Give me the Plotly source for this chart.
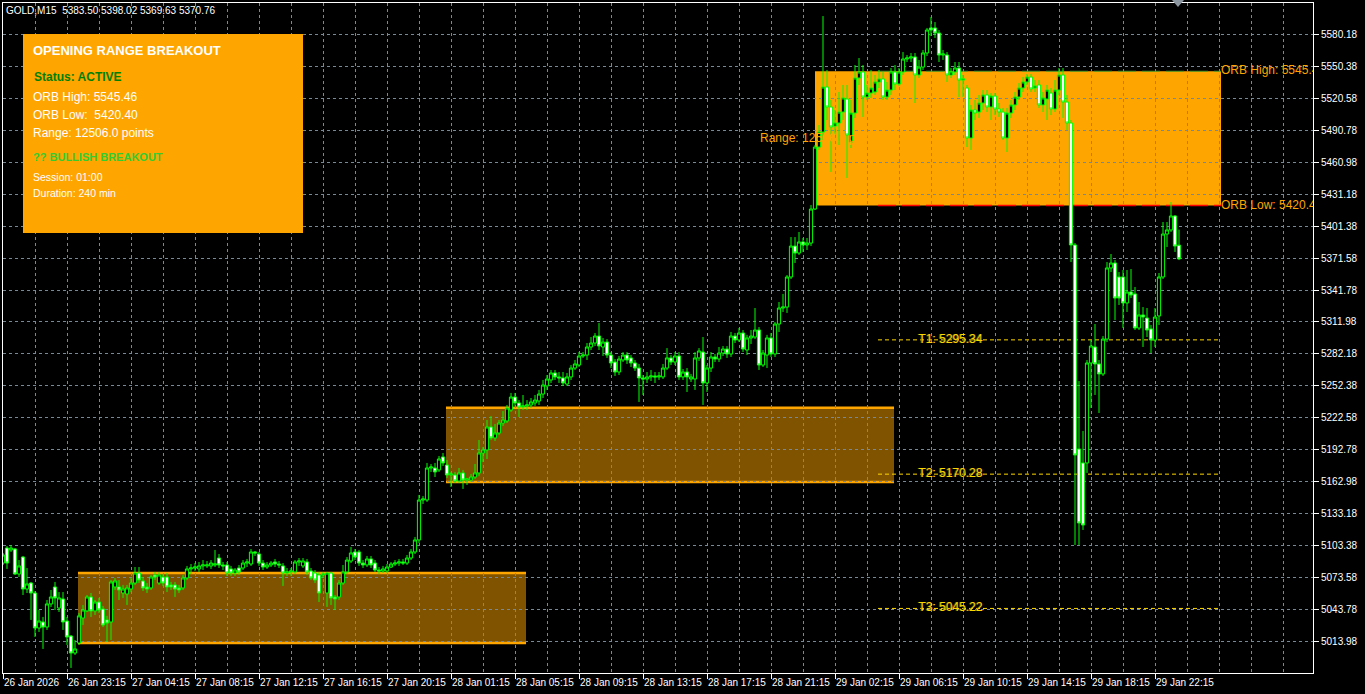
import plotly.graph_objects as go

# ─────────────────────────────────────────────────────
# GOLD, M15 — candles (bar index 0 = first visible bar)
# ─────────────────────────────────────────────────────
opens = [
    5087.5, 5101.5, 5099.7, 5100.6, 5077.3, 5093.1, 5063.3, 5068.9, 5059.6, 5027.0,
    5032.6, 5027.9, 5049.4, 5065.2, 5045.6, 5054.0, 5033.5, 5019.5, 5003.7, 5013.0,
    5036.3, 5042.9, 5055.9, 5042.9, 5051.2, 5044.7, 5034.5, 5032.6, 5065.2, 5065.2,
    5059.6, 5058.7, 5063.3, 5068.9, 5078.2, 5070.8, 5065.2, 5064.3, 5076.4, 5068.9,
    5074.5, 5074.5, 5067.1, 5067.1, 5064.3, 5064.3, 5073.6, 5082.0, 5082.9, 5082.0,
    5084.8, 5084.8, 5084.8, 5085.7, 5092.2, 5085.7, 5085.7, 5082.0, 5078.2, 5082.9,
    5082.9, 5087.5, 5086.6, 5097.8, 5095.9, 5087.5, 5083.8, 5085.7, 5088.5, 5086.6,
    5084.8, 5078.2, 5079.2, 5079.2, 5088.5, 5084.8, 5088.5, 5080.1, 5078.2, 5076.4,
    5076.4, 5059.6, 5078.2, 5055.9, 5055.9, 5068.9, 5079.2, 5089.4, 5097.8, 5097.8,
    5087.5, 5085.7, 5091.3, 5087.5, 5081.0, 5080.1, 5080.1, 5083.8, 5086.6, 5087.5,
    5088.5, 5087.5, 5092.2, 5097.8, 5109.0, 5146.2, 5146.2, 5176.0, 5176.0, 5174.2,
    5186.3, 5178.8, 5169.5, 5169.5, 5163.9, 5171.4, 5164.8, 5164.8, 5167.6, 5171.4,
    5190.0, 5192.8, 5214.2, 5204.0, 5208.6, 5217.9, 5219.8, 5230.0, 5242.1, 5236.6,
    5232.8, 5233.8, 5234.7, 5236.6, 5238.4, 5244.9, 5252.4, 5258.0, 5264.5, 5260.8,
    5259.9, 5254.2, 5260.8, 5269.1, 5271.9, 5280.3, 5281.2, 5288.7, 5292.4, 5298.9,
    5288.7, 5293.3, 5281.2, 5274.7, 5265.4, 5276.6, 5281.2, 5278.5, 5273.8, 5269.1,
    5259.9, 5258.9, 5260.8, 5261.7, 5260.8, 5260.8, 5269.1, 5278.5, 5274.7, 5280.3,
    5260.8, 5265.4, 5258.9, 5258.9, 5278.5, 5284.0, 5255.2, 5269.1, 5279.4, 5277.5,
    5283.1, 5286.8, 5282.2, 5298.9, 5295.2, 5301.7, 5285.9, 5297.1, 5298.0, 5304.5,
    5271.9, 5281.2, 5297.1, 5282.2, 5310.1, 5325.0, 5325.9, 5353.9, 5382.7, 5376.2,
    5386.5, 5383.7, 5385.5, 5417.2, 5474.9, 5488.9, 5530.8, 5512.2, 5494.5, 5497.3,
    5507.5, 5519.6, 5479.6, 5506.6, 5539.2, 5544.8, 5521.5, 5525.2, 5526.2, 5535.5,
    5538.3, 5521.5, 5528.0, 5544.8, 5533.6, 5544.8, 5556.9, 5557.8, 5558.8, 5542.0,
    5549.4, 5562.5, 5585.8, 5585.8, 5581.1, 5560.6, 5560.6, 5542.0, 5544.8, 5548.5,
    5537.3, 5529.9, 5483.3, 5509.4, 5507.5, 5515.9, 5523.4, 5512.2, 5522.4, 5510.3,
    5507.5, 5483.3, 5506.6, 5514.1, 5521.5, 5529.9, 5535.5, 5540.1, 5529.9, 5532.7,
    5514.1, 5519.6, 5525.2, 5510.3, 5528.0, 5542.0, 5516.8, 5497.3, 5383.7, 5193.7,
    5180.7, 5180.7, 5273.8, 5288.7, 5272.9, 5263.6, 5296.1, 5362.3, 5366.9, 5353.9,
    5353.9, 5329.7, 5339.9, 5338.1, 5306.4, 5318.5, 5315.7, 5305.5, 5295.2, 5317.6,
    5353.9, 5393.9, 5397.7, 5410.7, 5383.50,
]
highs = [
    5096.9, 5103.4, 5104.3, 5101.5, 5090.3, 5094.1, 5082.9, 5069.9, 5061.5, 5043.8,
    5037.3, 5053.1, 5062.4, 5069.9, 5060.5, 5060.5, 5037.3, 5020.5, 5015.8, 5041.0,
    5048.4, 5057.7, 5059.6, 5053.1, 5055.0, 5047.5, 5038.3, 5071.7, 5073.6, 5071.7,
    5067.1, 5067.1, 5073.6, 5083.8, 5083.8, 5074.5, 5068.9, 5076.4, 5079.2, 5079.2,
    5077.3, 5078.2, 5069.9, 5069.9, 5067.1, 5076.4, 5084.8, 5086.6, 5087.5, 5088.5,
    5090.3, 5089.4, 5090.3, 5099.7, 5095.9, 5088.5, 5088.5, 5084.8, 5082.9, 5085.7,
    5090.3, 5091.3, 5100.6, 5098.7, 5097.8, 5090.3, 5088.5, 5089.4, 5091.3, 5089.4,
    5087.5, 5082.9, 5082.9, 5090.3, 5092.2, 5092.2, 5091.3, 5082.9, 5081.0, 5079.2,
    5079.2, 5079.2, 5079.2, 5057.7, 5071.7, 5085.7, 5093.1, 5102.5, 5100.6, 5099.7,
    5090.3, 5094.1, 5094.1, 5090.3, 5083.8, 5084.8, 5086.6, 5088.5, 5090.3, 5091.3,
    5091.3, 5095.0, 5100.6, 5111.8, 5150.9, 5149.9, 5180.7, 5179.7, 5180.7, 5187.2,
    5190.0, 5183.5, 5172.3, 5172.3, 5176.0, 5174.2, 5166.7, 5170.4, 5179.7, 5202.1,
    5195.6, 5220.7, 5224.4, 5217.0, 5220.7, 5229.1, 5234.7, 5245.9, 5245.9, 5239.3,
    5244.0, 5239.3, 5241.2, 5244.0, 5248.7, 5258.0, 5262.6, 5267.3, 5267.3, 5265.4,
    5265.4, 5264.5, 5271.9, 5276.6, 5284.0, 5284.0, 5292.4, 5298.0, 5301.7, 5311.1,
    5297.1, 5296.1, 5284.0, 5277.5, 5280.3, 5284.0, 5284.0, 5281.2, 5276.6, 5272.9,
    5262.6, 5265.4, 5267.3, 5265.4, 5265.4, 5272.9, 5287.7, 5281.2, 5284.0, 5284.0,
    5268.2, 5269.1, 5263.6, 5284.0, 5287.7, 5298.0, 5271.9, 5284.0, 5282.2, 5288.7,
    5289.6, 5289.6, 5302.7, 5301.7, 5306.4, 5304.5, 5300.0, 5304.5, 5325.0, 5307.3,
    5285.9, 5300.0, 5301.7, 5312.0, 5330.6, 5338.1, 5355.7, 5391.1, 5391.1, 5395.8,
    5390.2, 5390.2, 5420.9, 5476.8, 5495.4, 5596.9, 5546.7, 5518.7, 5509.4, 5526.2,
    5532.7, 5532.7, 5518.7, 5551.3, 5557.8, 5551.3, 5532.7, 5546.7, 5542.0, 5546.7,
    5544.8, 5535.5, 5548.5, 5551.3, 5548.5, 5563.4, 5560.6, 5562.5, 5562.5, 5556.0,
    5565.3, 5585.8, 5596.0, 5591.3, 5583.9, 5565.3, 5563.4, 5548.5, 5554.1, 5554.1,
    5542.0, 5532.7, 5514.1, 5518.7, 5523.4, 5528.0, 5528.0, 5525.2, 5525.2, 5515.9,
    5511.3, 5511.3, 5518.7, 5526.2, 5534.5, 5540.1, 5542.9, 5542.9, 5537.3, 5537.3,
    5526.2, 5532.7, 5529.9, 5537.3, 5548.5, 5548.5, 5523.4, 5500.1, 5385.5, 5257.0,
    5210.5, 5276.6, 5295.2, 5310.1, 5276.6, 5298.9, 5367.8, 5375.3, 5369.7, 5358.5,
    5360.4, 5360.4, 5361.3, 5344.6, 5330.6, 5325.9, 5325.0, 5309.2, 5325.0, 5357.6,
    5405.1, 5405.1, 5423.7, 5411.6, 5398.02,
]
lows = [
    5085.7, 5082.0, 5097.8, 5076.4, 5074.5, 5057.7, 5059.6, 5034.5, 5018.6, 5023.3,
    5007.5, 5025.2, 5046.6, 5043.8, 5041.9, 5025.2, 5011.2, 4989.8, 5001.9, 5011.2,
    5029.8, 5041.9, 5037.3, 5039.1, 5041.0, 5027.9, 5014.0, 5015.8, 5062.4, 5053.1,
    5055.0, 5048.4, 5060.5, 5067.1, 5068.9, 5061.5, 5059.6, 5062.4, 5071.7, 5067.1,
    5066.1, 5060.5, 5062.4, 5055.9, 5059.6, 5062.4, 5071.7, 5077.3, 5080.1, 5079.2,
    5081.0, 5082.9, 5082.0, 5083.8, 5082.9, 5081.0, 5075.4, 5075.4, 5075.4, 5076.4,
    5081.0, 5083.8, 5084.8, 5094.1, 5084.8, 5081.0, 5082.0, 5083.8, 5083.8, 5082.9,
    5066.1, 5075.4, 5075.4, 5077.3, 5084.8, 5082.9, 5076.4, 5071.7, 5068.9, 5051.2,
    5073.6, 5046.6, 5048.4, 5043.8, 5053.1, 5067.1, 5077.3, 5087.5, 5090.3, 5084.8,
    5082.9, 5083.8, 5082.9, 5079.2, 5077.3, 5078.2, 5078.2, 5082.9, 5084.8, 5084.8,
    5085.7, 5085.7, 5090.3, 5095.9, 5106.2, 5142.5, 5144.4, 5172.3, 5167.6, 5172.3,
    5177.9, 5166.7, 5158.3, 5162.0, 5162.0, 5156.5, 5160.2, 5163.0, 5165.8, 5168.6,
    5181.6, 5184.4, 5202.1, 5201.2, 5206.7, 5215.1, 5217.9, 5228.2, 5233.8, 5223.5,
    5230.0, 5230.0, 5231.9, 5233.8, 5234.7, 5241.2, 5248.7, 5255.2, 5258.0, 5255.2,
    5252.4, 5252.4, 5258.0, 5267.3, 5270.1, 5278.5, 5276.6, 5285.9, 5289.6, 5285.9,
    5280.3, 5278.5, 5269.1, 5261.7, 5262.6, 5274.7, 5272.9, 5270.1, 5266.4, 5237.5,
    5244.0, 5255.2, 5257.0, 5255.2, 5258.0, 5258.9, 5267.3, 5271.9, 5271.9, 5258.0,
    5258.0, 5246.8, 5256.1, 5248.7, 5275.7, 5234.7, 5246.8, 5265.4, 5274.7, 5274.7,
    5280.3, 5278.5, 5279.4, 5292.4, 5293.3, 5284.0, 5281.2, 5291.5, 5296.1, 5267.3,
    5270.1, 5269.1, 5279.4, 5279.4, 5302.7, 5321.3, 5320.4, 5352.0, 5366.9, 5374.4,
    5377.2, 5379.0, 5382.7, 5416.3, 5472.2, 5481.5, 5500.1, 5451.7, 5486.1, 5476.8,
    5500.1, 5446.1, 5474.0, 5502.0, 5532.7, 5502.9, 5518.7, 5520.6, 5523.4, 5529.9,
    5518.7, 5518.7, 5523.4, 5528.0, 5531.8, 5542.0, 5554.1, 5554.1, 5515.9, 5539.2,
    5546.7, 5559.7, 5578.3, 5576.5, 5554.1, 5556.0, 5535.5, 5539.2, 5542.0, 5521.5,
    5521.5, 5474.9, 5472.2, 5500.1, 5502.0, 5509.4, 5507.5, 5500.1, 5504.7, 5502.9,
    5481.5, 5470.3, 5502.0, 5509.4, 5518.7, 5526.2, 5532.7, 5526.2, 5526.2, 5511.3,
    5507.5, 5500.1, 5504.7, 5507.5, 5523.4, 5502.0, 5490.8, 5367.8, 5104.3, 5104.3,
    5118.3, 5171.4, 5231.9, 5244.0, 5227.2, 5261.7, 5293.3, 5358.5, 5313.8, 5327.8,
    5306.4, 5321.3, 5334.3, 5304.5, 5304.5, 5288.7, 5298.0, 5283.1, 5288.7, 5309.2,
    5352.0, 5381.8, 5395.8, 5377.2, 5369.63,
]
closes = [
    5095.0, 5087.5, 5101.5, 5077.3, 5084.8, 5063.3, 5068.0, 5059.6, 5027.0, 5033.5,
    5027.9, 5049.4, 5055.9, 5055.0, 5055.0, 5032.6, 5018.6, 5003.7, 5007.5, 5038.3,
    5043.8, 5055.9, 5042.9, 5051.2, 5043.8, 5029.8, 5031.6, 5069.9, 5070.8, 5062.4,
    5063.3, 5064.3, 5068.9, 5078.2, 5071.7, 5064.3, 5063.3, 5074.5, 5074.5, 5076.4,
    5068.9, 5065.2, 5065.2, 5063.3, 5062.4, 5073.6, 5082.0, 5082.9, 5083.8, 5084.8,
    5085.7, 5085.7, 5087.5, 5086.6, 5085.7, 5084.8, 5078.2, 5078.2, 5081.0, 5079.2,
    5087.5, 5088.5, 5097.8, 5096.9, 5087.5, 5083.8, 5085.7, 5087.5, 5086.6, 5085.7,
    5078.2, 5079.2, 5080.1, 5088.5, 5089.4, 5089.4, 5079.2, 5073.6, 5071.7, 5059.6,
    5077.3, 5078.2, 5055.0, 5054.0, 5068.9, 5079.2, 5090.3, 5096.9, 5093.1, 5087.5,
    5085.7, 5091.3, 5085.7, 5081.0, 5080.1, 5082.0, 5083.8, 5086.6, 5087.5, 5088.5,
    5087.5, 5092.2, 5097.8, 5109.0, 5146.2, 5147.1, 5176.0, 5176.9, 5172.3, 5184.4,
    5180.7, 5169.5, 5170.4, 5163.9, 5171.4, 5164.8, 5165.8, 5167.6, 5171.4, 5190.0,
    5192.8, 5214.2, 5204.0, 5208.6, 5217.9, 5220.7, 5231.9, 5242.1, 5236.6, 5232.8,
    5233.8, 5234.7, 5237.5, 5239.3, 5244.9, 5253.3, 5258.9, 5264.5, 5260.8, 5259.9,
    5255.2, 5260.8, 5269.1, 5272.9, 5280.3, 5281.2, 5288.7, 5292.4, 5298.9, 5289.6,
    5293.3, 5281.2, 5273.8, 5265.4, 5277.5, 5281.2, 5276.6, 5273.8, 5269.1, 5259.9,
    5258.9, 5260.8, 5261.7, 5260.8, 5261.7, 5269.1, 5278.5, 5274.7, 5280.3, 5260.8,
    5265.4, 5260.8, 5260.8, 5278.5, 5285.0, 5255.2, 5269.1, 5279.4, 5277.5, 5283.1,
    5286.8, 5282.2, 5298.9, 5295.2, 5301.7, 5286.8, 5297.1, 5298.9, 5304.5, 5271.9,
    5283.1, 5297.1, 5282.2, 5310.1, 5325.0, 5325.9, 5353.9, 5382.7, 5376.2, 5386.5,
    5383.7, 5385.5, 5417.2, 5474.9, 5488.9, 5530.8, 5512.2, 5493.6, 5497.3, 5507.5,
    5520.6, 5486.1, 5506.6, 5539.2, 5544.8, 5521.5, 5525.2, 5529.9, 5535.5, 5538.3,
    5521.5, 5528.0, 5544.8, 5533.6, 5544.8, 5556.9, 5557.8, 5558.8, 5542.0, 5549.4,
    5562.5, 5583.9, 5583.9, 5581.1, 5560.6, 5561.5, 5542.0, 5544.8, 5548.5, 5537.3,
    5538.3, 5483.3, 5509.4, 5506.6, 5515.9, 5523.4, 5512.2, 5522.4, 5510.3, 5507.5,
    5483.3, 5506.6, 5514.1, 5521.5, 5529.9, 5535.5, 5540.1, 5529.0, 5531.8, 5514.1,
    5520.6, 5528.0, 5510.3, 5528.0, 5542.0, 5516.8, 5497.3, 5383.7, 5188.1, 5124.8,
    5122.9, 5273.8, 5289.6, 5272.9, 5263.6, 5296.1, 5362.3, 5366.9, 5334.3, 5334.3,
    5329.7, 5339.9, 5337.1, 5306.4, 5318.5, 5316.6, 5304.5, 5295.2, 5316.6, 5353.9,
    5393.9, 5397.7, 5410.7, 5382.7, 5370.76,
]

# one label every 16 bars (MT4 style time scale)
time_labels = [
    "26 Jan 2026", "26 Jan 23:15", "27 Jan 04:15", "27 Jan 08:15", "27 Jan 12:15",
    "27 Jan 16:15", "27 Jan 20:15", "28 Jan 01:15", "28 Jan 05:15", "28 Jan 09:15",
    "28 Jan 13:15", "28 Jan 17:15", "28 Jan 21:15", "29 Jan 02:15", "29 Jan 06:15",
    "29 Jan 10:15", "29 Jan 14:15", "29 Jan 18:15", "29 Jan 22:15",
]

# opening ranges per session (bar index from / to, price high / low)
session_start = [18.75, 110.75, 203.0]
session_end = [130.75, 222.75, 304.5]
session_high = [5078.2, 5232.2, 5545.46]
session_low = [5013.0, 5163.0, 5420.40]

orb_high = 5545.46
orb_low = 5420.40
target_names = ["T1", "T2", "T3"]
target_levels = [5295.34, 5170.28, 5045.22]
level_start = 218.75
level_end = 304.5

# ─────────────────────────────────────────────────────
# Style
# ─────────────────────────────────────────────────────
FONT = "Liberation Sans, Arial, sans-serif"
ORANGE = "#FFA500"
BROWN = "#805300"
GOLD = "#FFD700"
GRID = "#778899"

# plot area in pixels (1365 x 694 page)
L, T, W, H = 3, 3, 1310, 670


def px(x):
    return (x - L) / W


def py(y):
    return (T + H - y) / H


bars = list(range(len(closes)))
tick_bars = [16 * i for i in range(len(time_labels))]

fig = go.Figure()

# range label (mostly hidden: same colour as the box it runs into)
fig.add_trace(
    go.Scatter(
        x=[189.25], y=[5482.4], mode="text",
        text=["Range: 12506.0 points"], textposition="middle right",
        textfont=dict(family=FONT, size=12, color=ORANGE),
        hoverinfo="skip", showlegend=False,
    )
)

fig.add_trace(
    go.Candlestick(
        x=bars, open=opens, high=highs, low=lows, close=closes,
        increasing=dict(line=dict(color="#00FF00", width=1), fillcolor="#000000"),
        decreasing=dict(line=dict(color="#00FF00", width=1), fillcolor="#FFFFFF"),
        whiskerwidth=0, hoverinfo="skip", showlegend=False,
    )
)

# ORB labels at the right end of the box (clipped by the plot area)
fig.add_trace(
    go.Scatter(
        x=[304.5, 304.5], y=[orb_high, orb_low], mode="text",
        text=[f"ORB High: {orb_high:.2f}", f"ORB Low: {orb_low:.2f}"],
        textposition="middle right",
        textfont=dict(family=FONT, size=12, color=ORANGE),
        cliponaxis=True, hoverinfo="skip", showlegend=False,
    )
)

# target labels
fig.add_trace(
    go.Scatter(
        x=[236.9] * len(target_levels), y=target_levels, mode="text",
        text=[f"{n}: {v:.2f}" for n, v in zip(target_names, target_levels)],
        textposition="middle center",
        textfont=dict(family=FONT, size=12, color=GOLD, shadow="-1px 0px 0px #6E6000"),
        hoverinfo="skip", showlegend=False,
    )
)

shapes = []
for i in range(len(session_start)):
    fill = ORANGE if i == len(session_start) - 1 else BROWN
    shapes.append(dict(
        type="rect", xref="x", yref="y", layer="below",
        x0=session_start[i], x1=session_end[i], y0=session_low[i], y1=session_high[i],
        fillcolor=fill, line=dict(width=0),
    ))
    if i < len(session_start) - 1:
        for lvl in (session_high[i], session_low[i]):
            shapes.append(dict(
                type="line", xref="x", yref="y", layer="below",
                x0=session_start[i], x1=session_end[i], y0=lvl, y1=lvl,
                line=dict(color=ORANGE, width=2.5),
            ))

shapes.append(dict(
    type="line", xref="x", yref="y", layer="below",
    x0=level_start, x1=level_end, y0=orb_high, y1=orb_high,
    line=dict(color="#4E9A28", width=1, dash="18px,6px"),
))
shapes.append(dict(
    type="line", xref="x", yref="y", layer="below",
    x0=level_start, x1=level_end, y0=orb_low, y1=orb_low,
    line=dict(color="#FF0000", width=1.5, dash="18px,6px"),
))
for lvl in target_levels:
    shapes.append(dict(
        type="line", xref="x", yref="y", layer="below",
        x0=level_start, x1=level_end, y0=lvl, y1=lvl,
        line=dict(color=GOLD, width=1, dash="4px,3px"),
    ))

# info panel
shapes.append(dict(
    type="rect", xref="paper", yref="paper", layer="above",
    x0=px(23), x1=px(303), y0=py(233), y1=py(34),
    fillcolor=ORANGE, line=dict(width=0),
))
# chart shift marker
shapes.append(dict(
    type="path", xref="paper", yref="paper", layer="above",
    path=f"M {px(1172)} {py(0)} L {px(1184)} {py(0)} L {px(1178)} {py(7)} Z",
    fillcolor="#8C96A0", line=dict(width=0),
))

panel_lines = [
    ("<b>OPENING RANGE BREAKOUT</b>", 31, 50, 13, "#FFFFFF"),
    ("<b>Status: ACTIVE</b>", 32, 77, 12, "#008000"),
    (f"ORB High: {orb_high:.2f}", 31, 97, 12, "#FFFFFF"),
    (f"ORB Low:\u00a0 {orb_low:.2f}", 31, 115, 12, "#FFFFFF"),
    ("Range: 12506.0 points", 31, 133, 12, "#FFFFFF"),
    ("<b>?? BULLISH BREAKOUT</b>", 31, 157, 11, "#32CD32"),
    ("Session: 01:00", 31, 177, 10.5, "#FFFFFF"),
    ("Duration: 240 min", 31, 193, 10.5, "#FFFFFF"),
]
annotations = []
for text, x, y, size, color in panel_lines:
    annotations.append(dict(
        text=text, xref="paper", yref="paper", x=px(x), y=py(y),
        xanchor="left", yanchor="middle", showarrow=False,
        font=dict(family=FONT, size=size, color=color),
    ))

annotations.append(dict(
    text=f"GOLD,M15\u00a0 {opens[-1]:.2f} {highs[-1]:.2f} {lows[-1]:.2f} {closes[-1]:.2f}",
    xref="paper", yref="paper", x=px(4), y=py(10),
    xanchor="left", yanchor="middle", showarrow=False,
    font=dict(family=FONT, size=10, color="#FFFFFF"),
))

fig.update_layout(
    width=1365,
    height=694,
    margin=dict(l=L, r=1365 - L - W, t=T, b=694 - T - H, autoexpand=False),
    paper_bgcolor="#000000",
    plot_bgcolor="#000000",
    font=dict(family=FONT, size=10, color="#FFFFFF"),
    showlegend=False,
    boxgap=0,
    boxgroupgap=0.2,
    shapes=shapes,
    annotations=annotations,
    xaxis=dict(
        range=[0, 327.5],
        rangeslider=dict(visible=False),
        automargin=False,
        tickmode="array",
        tickvals=tick_bars,
        ticktext=time_labels,
        tickangle=0,
        ticks="outside",
        ticklen=5,
        tickcolor="#FFFFFF",
        ticklabelposition="outside right",
        tickfont=dict(family=FONT, size=10, color="#FFFFFF"),
        showgrid=True,
        gridcolor=GRID,
        griddash="3px,3px",
        gridwidth=1,
        minor=dict(tickmode="linear", tick0=0, dtick=8, showgrid=True,
                   gridcolor=GRID, griddash="3px,3px", gridwidth=1, ticks=""),
        showline=True,
        mirror=True,
        linecolor="#FFFFFF",
        linewidth=1,
        zeroline=False,
        fixedrange=True,
    ),
    yaxis=dict(
        side="right",
        range=[4985.1, 5609.05],
        automargin=False,
        tickmode="linear",
        tick0=5013.98,
        dtick=29.8,
        tickformat=".2f",
        ticks="outside",
        ticklen=5,
        tickcolor="#FFFFFF",
        tickfont=dict(family=FONT, size=10, color="#FFFFFF"),
        showgrid=True,
        gridcolor=GRID,
        griddash="3px,3px",
        gridwidth=1,
        showline=True,
        mirror=True,
        linecolor="#FFFFFF",
        linewidth=1,
        zeroline=False,
        fixedrange=True,
    ),
)

fig.write_html(
    "out.html",
    config={"displayModeBar": False},
    post_script="document.body.style.margin='0';document.body.style.overflow='hidden';",
)
